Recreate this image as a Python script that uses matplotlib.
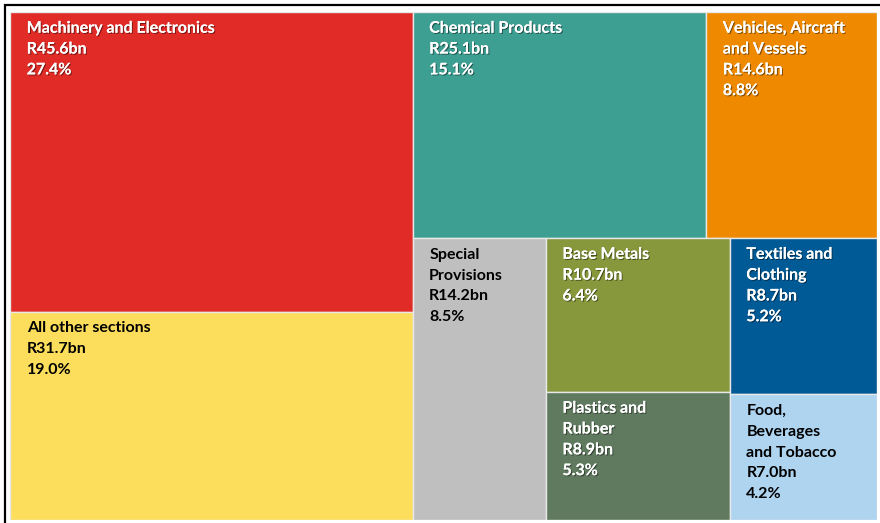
import matplotlib
matplotlib.use("Agg")
from matplotlib import pyplot as plt
from matplotlib import patheffects as pe
from matplotlib.patches import Rectangle

# data (R billion)
sections = ["Machinery and Electronics", "All other sections", "Chemical Products",
            "Vehicles, Aircraft\nand Vessels", "Special\nProvisions", "Base Metals",
            "Plastics and\nRubber", "Textiles and\nClothing", "Food,\nBeverages\nand Tobacco"]
values = [45.6, 31.7, 25.1, 14.6, 14.2, 10.7, 8.9, 8.7, 7.0]
shares = [27.4, 19.0, 15.1, 8.8, 8.5, 6.4, 5.3, 5.2, 4.2]
colors = ["#E02B27", "#FCDE5C", "#3D9E92", "#EE8900", "#BFBFBF",
          "#87973C", "#5F7A5F", "#005A96", "#AED4F0"]
text_colors = ["white", "black", "white", "white", "black",
               "white", "white", "white", "black"]

# how the cells are nested: 'h' = side by side, 'v' = stacked
layout = ("h", [("v", [0, 1]),
                ("v", [("h", [2, 3]),
                       ("h", [4, ("v", [5, 6]), ("v", [7, 8])])])])


def total(node):
    if isinstance(node, int):
        return values[node]
    return sum(total(c) for c in node[1])


def place(node, x, y, w, h, out):
    # slice the box in proportion to the values inside each child
    if isinstance(node, int):
        out[node] = (x, y, w, h)
        return
    kind, kids = node
    s = total(node)
    for k in kids:
        f = total(k) / s
        if kind == "h":
            place(k, x, y, w * f, h, out)
            x += w * f
        else:
            place(k, x, y, w, h * f, out)
            y += h * f


rects = {}
place(layout, 0, 0, 1, 1, rects)

fig = plt.figure(figsize=(8.8, 5.23), dpi=100)
# outer frame of the original screenshot
fig.add_artist(Rectangle((5 / 880, -0.1), 1.2, (523 - 5) / 523 + 0.1, transform=fig.transFigure,
                         fill=False, edgecolor="black", linewidth=1.6))
ax = fig.add_axes([10 / 880, 3 / 523, 867 / 880, 508 / 523])
ax.set_xlim(0, 1)
ax.set_ylim(1, 0)
ax.axis("off")

shadow = [pe.withSimplePatchShadow(offset=(0.8, -0.8), shadow_rgbFace="black", alpha=0.45), pe.Normal()]

for i, (x, y, w, h) in rects.items():
    ax.add_patch(Rectangle((x, y), w, h, facecolor=colors[i], edgecolor="#E8E8E8", linewidth=1.0))
    label = f"{sections[i]}\nR{values[i]:.1f}bn\n{shares[i]:.1f}%"
    ax.annotate(label, (x, y), xytext=(12, -7), textcoords="offset points",
                ha="left", va="top", fontsize=11.5, fontweight="bold", family="Lato",
                color=text_colors[i], linespacing=1.62,
                path_effects=shadow if text_colors[i] == "white" else None)

fig.savefig("out.png", dpi=100, facecolor="white")
